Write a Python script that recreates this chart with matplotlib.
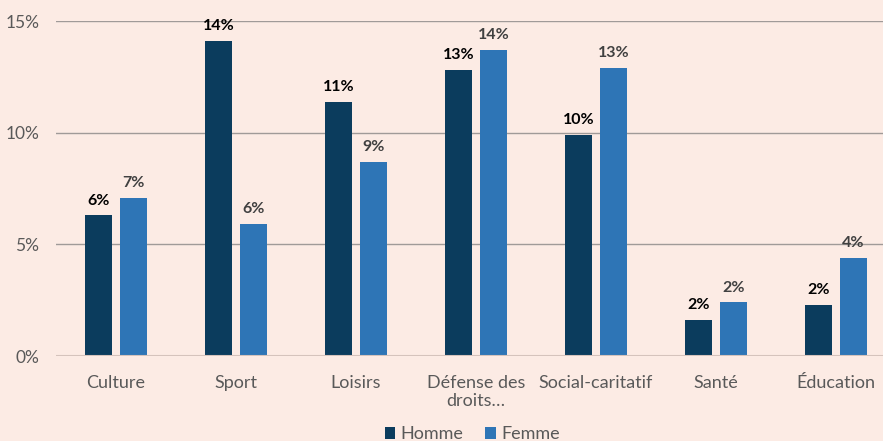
import matplotlib.pyplot as plt
import numpy as np

categories = ['Culture', 'Sport', 'Loisirs', 'Défense des\ndroits…', 'Social-caritatif', 'Santé', 'Éducation']
homme = [6.3, 14.1, 11.4, 12.8, 9.9, 1.6, 2.3]
femme = [7.1, 5.9, 8.7, 13.7, 12.9, 2.4, 4.4]
homme_labels = ['6%', '14%', '11%', '13%', '10%', '2%', '2%']
femme_labels = ['7%', '6%', '9%', '14%', '13%', '2%', '4%']

plt.rcParams['font.family'] = ['Lato', 'DejaVu Sans']
bg = '#FCEBE4'
c_homme = '#0B3C5D'
c_femme = '#2E75B6'

fig = plt.figure(figsize=(8.83, 4.41), dpi=100, facecolor=bg)
ax = fig.add_axes([0.0634, 0.1927, 0.9513, 0.7593])
ax.set_facecolor(bg)

x = np.arange(len(categories))
w = 0.225
b1 = ax.bar(x - 0.145, homme, w, color=c_homme, zorder=3)
b2 = ax.bar(x + 0.145, femme, w, color=c_femme, zorder=3)

for r, t in zip(b1, homme_labels):
    ax.text(r.get_x() + r.get_width() / 2, r.get_height() + 0.35, t,
            ha='center', va='bottom', fontsize=11.5, fontweight='bold', color='black')
for r, t in zip(b2, femme_labels):
    ax.text(r.get_x() + r.get_width() / 2, r.get_height() + 0.35, t,
            ha='center', va='bottom', fontsize=11.5, fontweight='bold', color='#404040')

ax.set_xlim(-0.5, 6.5)
ax.set_ylim(0, 15)
ax.set_yticks([0, 5, 10, 15])
ax.set_yticklabels(['0%', '5%', '10%', '15%'])
ax.yaxis.grid(True, color='#A09A98', linewidth=1, zorder=0)
ax.axhline(0, color='#D5C3BC', linewidth=1.5, zorder=4)
ax.set_xticks(x)
ax.set_xticklabels(categories, linespacing=1.1)
ax.tick_params(axis='x', length=0, labelsize=13, colors='#595959', pad=14)
ax.tick_params(axis='y', length=0, labelsize=12.5, colors='#595959', pad=12)
for s in ax.spines.values():
    s.set_visible(False)

leg = fig.legend([b1, b2], ['Homme', 'Femme'], loc='lower center', ncol=2,
                 bbox_to_anchor=(0.535, -0.04), frameon=False, fontsize=13,
                 handlelength=0.6, handleheight=0.6, handletextpad=0.3, columnspacing=1.2)
for t in leg.get_texts():
    t.set_color('#595959')

fig.savefig('out.png', dpi=100, facecolor=bg)
